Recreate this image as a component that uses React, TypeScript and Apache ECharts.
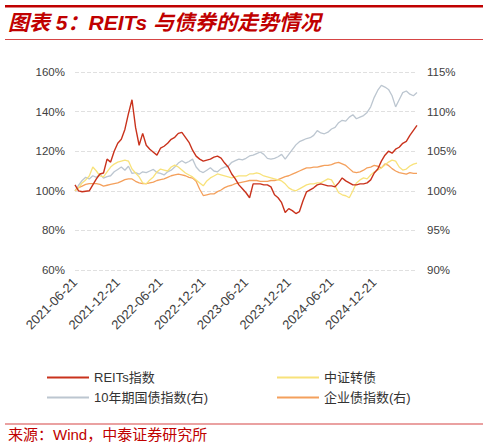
import { useEffect, useRef } from "react";
import * as echarts from "echarts";

// half-monthly readings, 2021-06-21 .. 2025-06-21
const reits = [
  103, 100, 99.5, 99.8, 100, 103, 106, 108.5, 109, 116,
  114.5, 120, 124, 126, 131, 139, 146, 132, 123, 129,
  123, 121, 119.5, 118, 121.5, 122.5, 124, 126, 127, 129,
  129.5, 127, 124.5, 120.5, 117.5, 116, 115, 115.5, 116, 117,
  117.5, 116.5, 114, 112, 108.5, 106, 103, 101, 99, 96.5,
  103.5, 103.5, 103.5, 103, 103, 102, 98, 96.5, 94, 89,
  91, 90, 88.5, 89.5, 95, 99.5, 100.5, 101.5, 103, 103.5,
  103, 102.5, 102.5, 102, 104, 106.5, 105, 104, 103, 103,
  103.5, 103.5, 104, 105.5, 109, 111, 115, 118, 120, 119,
  121, 122, 124, 125, 128, 130.5, 133,
];

const convertible = [
  100, 101.5, 104, 105.5, 107.5, 112, 110, 107.5, 107, 109.5,
  112, 113.5, 114.5, 115, 115.5, 115, 111, 109, 107, 104,
  103.5, 105.5, 107, 109.5, 111, 110.5, 110, 112, 113, 112,
  110.5, 109, 108, 107, 105.5, 104, 102.5, 105, 106.5, 107.5,
  108.5, 108, 107.5, 107, 106.5, 107, 107.5, 107.5, 107.5, 108.5,
  108.5, 109, 108.5, 107.5, 107, 106.5, 106, 105.5, 105, 103.5,
  101.5, 100.5, 100, 101, 102, 103, 103.5, 103.5, 104, 104,
  105, 106, 105.5, 102.5, 99, 98, 97.5, 96.5, 100, 104,
  105.5, 106.5, 106, 108, 109.5, 110.5, 111.5, 113, 114.5, 115.5,
  115, 112, 110.5, 111, 112.5, 113.5, 114,
];

// right axis
const treasury10y = [
  100, 100.7, 101.3, 101.7, 101.5, 101.9, 101.7, 102.1, 101.6, 101.8,
  101.9, 102.4, 102.7, 103, 102.6, 103.1, 102.2, 102.3, 102.1, 102.4,
  102.3, 102.5, 102.7, 102.3, 102.2, 102, 102.4, 102.6, 103, 103.5,
  103.8, 103.5, 103.7, 104, 103, 102.5, 102.3, 102.6, 102.9, 102.5,
  102.4, 102.8, 103, 103.1, 103.6, 103.8, 104, 103.9, 104.1, 104.4,
  104.5, 104.7, 104.9, 104.6, 104.1, 104, 104.1, 104.3, 104.6, 104,
  104.6, 105.2, 105.8, 106.2, 106.4, 106.6, 106.7, 107, 107.6, 107.3,
  107.2, 107.4, 107.8, 108, 108.6, 108.9, 108.8, 109.3, 109.6, 109.1,
  109.3, 109.5, 109.9, 110.6, 111.8, 112.7, 113.3, 113.1, 112.8, 112,
  110.6, 111.5, 112.4, 112.6, 112.2, 112, 112.4,
];

const corporate = [
  100, 100.4, 100.6, 100.8, 100.9, 100.9, 100.9, 100.8, 100.6, 100.7,
  100.8, 100.9, 101, 101.2, 101.4, 101.5, 101.5, 101.2, 101, 100.9,
  100.9, 101, 101.1, 101.3, 101.4, 101.5, 101.7, 101.9, 102, 102.1,
  102, 101.9, 101.7, 101.6, 101.2, 100.2, 99.4, 99.5, 99.6, 99.6,
  99.9, 100.1, 100.4, 100.6, 100.7, 100.9, 101, 101.1, 101.2, 101.3,
  101.3, 101.3, 101.2, 101.2, 101.2, 101.3, 101.3, 101.4, 101.6, 101.8,
  101.9, 102.1, 102.3, 102.5, 102.7, 102.9, 102.9, 103, 103, 103.1,
  103.2, 103.2, 103.3, 103.5, 103.6, 103.4, 103.2, 102.8, 102.4, 102.3,
  102.4, 102.6, 102.9, 103, 103.2, 103.1, 102.9, 103.4, 103.2, 102.8,
  102.5, 102.3, 102.2, 102.1, 102.3, 102.2, 102.2,
];

const dates: string[] = [];
for (let i = 0; i < reits.length; i++) {
  const m = 6 + Math.ceil(i / 2);
  const y = 2021 + Math.floor((m - 1) / 12);
  const mm = ((m - 1) % 12) + 1;
  dates.push(`${y}-${String(mm).padStart(2, "0")}-${i % 2 === 0 ? "21" : "06"}`);
}

const RED = "#C00000";
const FONT = "'Liberation Sans', Arial, 'Noto Sans CJK SC', sans-serif";
const CJK = "'Liberation Sans', 'Noto Sans CJK SC', sans-serif";

export default function App() {
  const chartRef = useRef<HTMLDivElement>(null);

  useEffect(() => {
    if (!chartRef.current) return;
    const chart = echarts.init(chartRef.current, null, { renderer: "svg" });

    const legendItem = (name: string, left: number, top: number) => ({
      data: [name],
      left,
      top,
      icon: "rect",
      itemWidth: 42,
      itemHeight: 2,
      itemGap: 0,
      textStyle: { fontSize: 13, color: "#333", fontFamily: CJK, padding: [0, 0, 0, 0] },
    });

    chart.setOption({
      animation: false,
      grid: { left: 75, right: 71, top: 72, bottom: 178 },
      legend: [
        legendItem("REITs指数", 42, 366),
        legendItem("中证转债", 272, 366),
        legendItem("10年期国债指数(右)", 42, 386),
        legendItem("企业债指数(右)", 272, 386),
      ],
      xAxis: {
        type: "category",
        data: dates,
        boundaryGap: false,
        axisLine: { show: false },
        axisTick: { show: false },
        axisLabel: {
          rotate: 45,
          margin: 10,
          fontSize: 13,
          color: "#404040",
          fontFamily: FONT,
          interval: (index: number) => index % 12 === 0 && index < 96,
        },
      },
      yAxis: [
        {
          type: "value",
          min: 60,
          max: 160,
          interval: 20,
          axisLine: { show: false },
          axisTick: { show: false },
          axisLabel: { formatter: "{value}%", fontSize: 11.5, color: "#404040", fontFamily: FONT, margin: 10 },
          splitLine: { lineStyle: { type: "dashed", color: "#E0E0E0" } },
        },
        {
          type: "value",
          min: 90,
          max: 115,
          interval: 5,
          axisLine: { show: false },
          axisTick: { show: false },
          axisLabel: { formatter: "{value}%", fontSize: 11.5, color: "#404040", fontFamily: FONT, margin: 10 },
          splitLine: { show: false },
        },
      ],
      series: [
        {
          name: "10年期国债指数(右)",
          type: "line",
          yAxisIndex: 1,
          data: treasury10y,
          showSymbol: false,
          color: "#BCC6D0",
          lineStyle: { width: 1.3 },
        },
        {
          name: "企业债指数(右)",
          type: "line",
          yAxisIndex: 1,
          data: corporate,
          showSymbol: false,
          color: "#F4A05C",
          lineStyle: { width: 1.3 },
        },
        {
          name: "中证转债",
          type: "line",
          data: convertible,
          showSymbol: false,
          color: "#F8E27A",
          lineStyle: { width: 1.3 },
        },
        {
          name: "REITs指数",
          type: "line",
          data: reits,
          showSymbol: false,
          color: "#C9321C",
          lineStyle: { width: 1.4 },
        },
      ],
      graphic: [
        { type: "rect", shape: { x: 5, y: 5, width: 478, height: 2.5 }, style: { fill: RED } },
        {
          type: "text",
          x: 8,
          y: 12,
          style: {
            text: "图表 5：REITs 与债券的走势情况",
            fill: RED,
            font: `italic bold 21px ${CJK}`,
          },
        },
        { type: "rect", shape: { x: 5, y: 39, width: 478, height: 1 }, style: { fill: "#D64545" } },
        { type: "rect", shape: { x: 5, y: 423.5, width: 478, height: 1 }, style: { fill: "#D64545" } },
        {
          type: "text",
          x: 8,
          y: 427,
          style: {
            text: "来源：Wind，中泰证券研究所",
            fill: RED,
            font: `15px ${CJK}`,
          },
        },
      ],
    });

    return () => chart.dispose();
  }, []);

  return (
    <div
      ref={chartRef}
      style={{ position: "fixed", left: 0, top: 0, width: 488, height: 448, background: "#fff" }}
    />
  );
}
